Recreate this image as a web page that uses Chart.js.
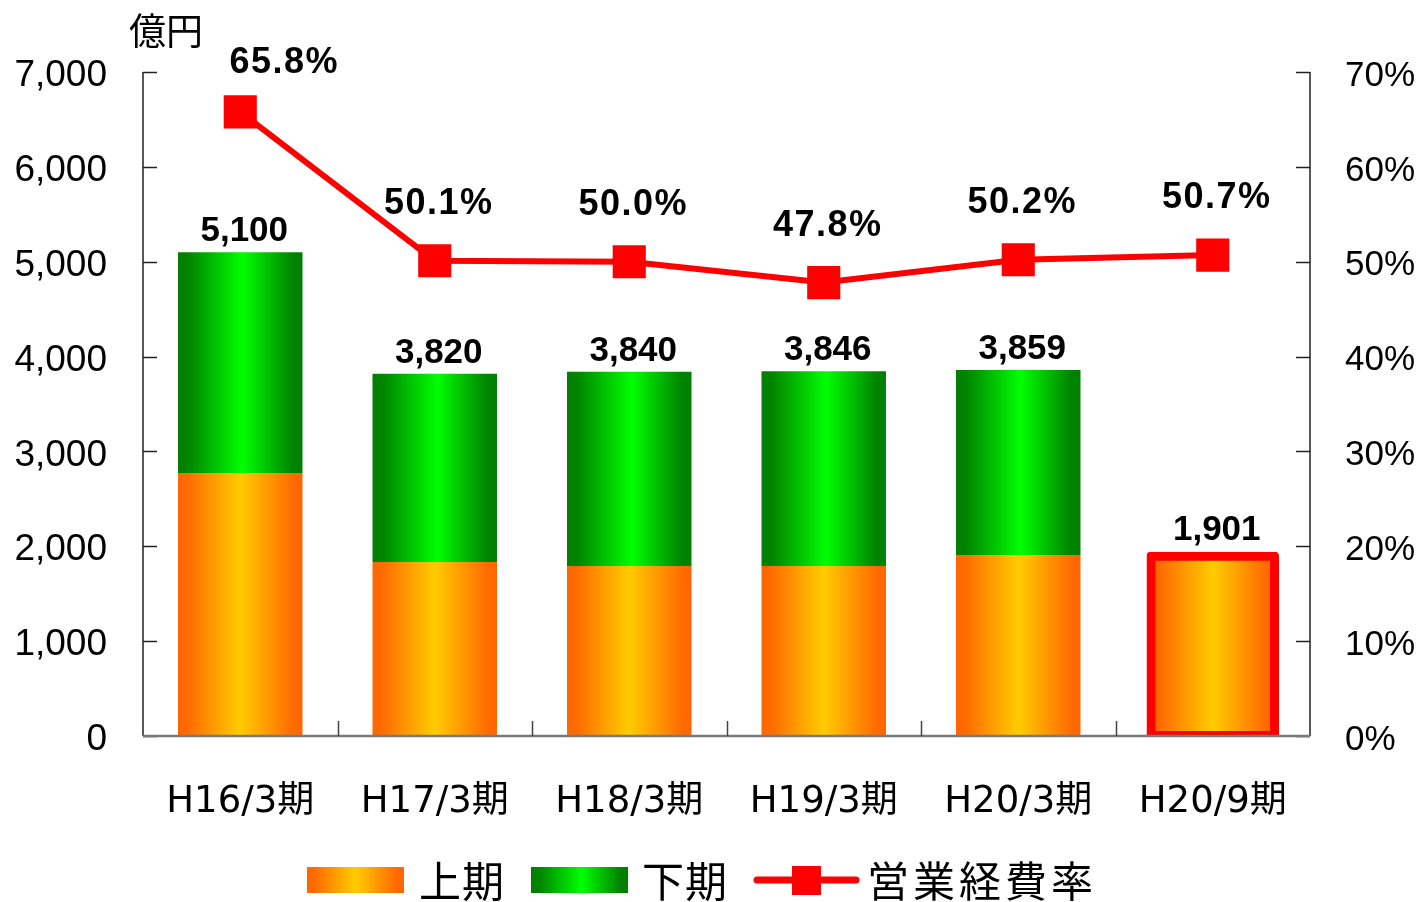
<!DOCTYPE html>
<html>
<head>
<meta charset="utf-8">
<title>営業経費率</title>
<script src="https://cdn.jsdelivr.net/npm/chart.js@4.4.0/dist/chart.umd.min.js"></script>
<style>
  html, body { margin: 0; padding: 0; background: #fff; }
  #chart { display: block; }
</style>
</head>
<body>
<canvas id="chart" width="1416" height="902"></canvas>
<script>
// data
const periods = ['H16/3期', 'H17/3期', 'H18/3期', 'H19/3期', 'H20/3期', 'H20/9期'];
const firstHalf = [2773, 1834, 1792, 1792, 1908, 1901];   // 上期
const secondHalf = [2327, 1986, 2048, 2054, 1951, null];  // 下期
const totals = [5100, 3820, 3840, 3846, 3859, 1901];
const expenseRate = [65.8, 50.1, 50.0, 47.8, 50.2, 50.7]; // 営業経費率 (%)

const NUM_FONT = "'Liberation Sans', Arial, sans-serif";
const JP_FONT = "'Noto Sans CJK JP', sans-serif";
const BAR_PCT = 0.64;

const orangeStops = [[0, '#ff6600'], [0.08, '#ff6c00'], [0.5, '#ffcc00'], [0.92, '#ff6c00'], [1, '#ff6600']];
const greenStops = [[0, '#007f00'], [0.08, '#008400'], [0.52, '#00ff00'], [0.92, '#008400'], [1, '#007f00']];

// horizontal gradient across one bar
function barGradient(context, stops) {
    const chart = context.chart;
    const { chartArea, scales } = chart;
    if (!chartArea || context.dataIndex === undefined || !scales.x) return stops[2][1];
    const x = scales.x.getPixelForValue(context.dataIndex);
    const half = (scales.x.width / periods.length) * BAR_PCT / 2;
    const g = chart.ctx.createLinearGradient(x - half, 0, x + half, 0);
    stops.forEach(s => g.addColorStop(s[0], s[1]));
    return g;
}

// axes, ticks, labels and legend drawn on top
const decorations = {
    id: 'decorations',
    afterDraw(chart) {
        const { ctx, chartArea: area, scales } = chart;
        const xs = scales.x, yl = scales.y, yr = scales.y2;
        ctx.save();

        // left and right axis lines with inside ticks
        ctx.strokeStyle = '#222';
        ctx.lineWidth = 1.5;
        ctx.beginPath();
        ctx.moveTo(area.left, area.top);
        ctx.lineTo(area.left, area.bottom);
        ctx.moveTo(area.right, area.top);
        ctx.lineTo(area.right, area.bottom);
        yl.ticks.forEach(t => {
            const y = Math.round(yl.getPixelForValue(t.value)) + 0.5;
            ctx.moveTo(area.left, y);
            ctx.lineTo(area.left + 14, y);
        });
        yr.ticks.forEach(t => {
            const y = Math.round(yr.getPixelForValue(t.value)) + 0.5;
            ctx.moveTo(area.right, y);
            ctx.lineTo(area.right - 14, y);
        });
        ctx.stroke();

        // bottom axis and category separators
        ctx.strokeStyle = '#7a7a7a';
        ctx.lineWidth = 2.5;
        ctx.beginPath();
        ctx.moveTo(area.left, area.bottom);
        ctx.lineTo(area.right, area.bottom);
        ctx.stroke();
        ctx.strokeStyle = '#444';
        ctx.lineWidth = 1.5;
        ctx.beginPath();
        for (let i = 0; i < periods.length - 1; i++) {
            const x = Math.round((xs.getPixelForValue(i) + xs.getPixelForValue(i + 1)) / 2) + 0.5;
            ctx.moveTo(x, area.bottom);
            ctx.lineTo(x, area.bottom - 15);
        }
        ctx.stroke();

        // unit
        ctx.fillStyle = '#000';
        ctx.font = '37px ' + JP_FONT;
        ctx.textAlign = 'left';
        ctx.textBaseline = 'middle';
        ctx.fillText('億円', 129, 31);

        // totals above bars
        ctx.font = 'bold 35px ' + NUM_FONT;
        ctx.textAlign = 'center';
        ctx.textBaseline = 'alphabetic';
        totals.forEach((v, i) => {
            const x = xs.getPixelForValue(i) + 4;
            const y = yl.getPixelForValue(v) - (i === totals.length - 1 ? 16 : 11);
            ctx.fillText(v.toLocaleString('en-US'), x, y);
        });

        // rates above markers
        ctx.font = 'bold 36px ' + NUM_FONT;
        ctx.letterSpacing = '1.5px';
        expenseRate.forEach((v, i) => {
            let x = xs.getPixelForValue(i) + 4;
            let y = yr.getPixelForValue(v) - 47;
            if (i === 0) { x += 40; y += 8; }
            ctx.fillText(v.toFixed(1) + '%', x, y);
        });
        ctx.letterSpacing = '0px';

        // legend
        const ly = 880;
        const swatch = (x, stops) => {
            const g = ctx.createLinearGradient(x, 0, x + 97, 0);
            stops.forEach(s => g.addColorStop(s[0], s[1]));
            ctx.fillStyle = g;
            ctx.fillRect(x, ly - 13, 97, 26);
        };
        swatch(307, orangeStops);
        swatch(531, greenStops);
        ctx.strokeStyle = '#ff0000';
        ctx.lineWidth = 7;
        ctx.lineCap = 'round';
        ctx.beginPath();
        ctx.moveTo(757, ly);
        ctx.lineTo(856, ly);
        ctx.stroke();
        ctx.fillStyle = '#ff0000';
        ctx.fillRect(792, ly - 14, 29, 29);

        ctx.fillStyle = '#000';
        ctx.font = '42px ' + JP_FONT;
        ctx.textAlign = 'left';
        ctx.textBaseline = 'middle';
        ctx.letterSpacing = '1px';
        ctx.fillText('上期', 419, ly + 1);
        ctx.fillText('下期', 642, ly + 1);
        ctx.letterSpacing = '4px';
        ctx.fillText('営業経費率', 867, ly + 1);
        ctx.restore();
    }
};

const ctx = document.getElementById('chart').getContext('2d');

new Chart(ctx, {
    data: {
        labels: periods,
        datasets: [
            {
                type: 'line',
                label: '営業経費率',
                data: expenseRate,
                yAxisID: 'y2',
                borderColor: '#ff0000',
                backgroundColor: '#ff0000',
                borderWidth: 6,
                pointStyle: 'rect',
                pointRadius: 22,
                pointBorderWidth: 2,
                pointBorderColor: '#ff0000',
                pointBackgroundColor: '#ff0000',
                tension: 0,
                order: 0
            },
            {
                type: 'bar',
                label: '上期',
                data: firstHalf,
                yAxisID: 'y',
                backgroundColor: c => barGradient(c, orangeStops),
                borderColor: '#ff0000',
                borderWidth: [0, 0, 0, 0, 0, 9],
                borderRadius: [0, 0, 0, 0, 0, 4],
                inflateAmount: [0, 0, 0, 0, 0, 4],
                borderSkipped: false,
                barPercentage: BAR_PCT,
                categoryPercentage: 1,
                order: 1
            },
            {
                type: 'bar',
                label: '下期',
                data: secondHalf,
                yAxisID: 'y',
                backgroundColor: c => barGradient(c, greenStops),
                borderWidth: 0,
                barPercentage: BAR_PCT,
                categoryPercentage: 1,
                order: 1
            }
        ]
    },
    options: {
        responsive: false,
        animation: false,
        layout: { padding: { top: 72, left: 0, right: 0, bottom: 0 } },
        plugins: {
            legend: { display: false },
            tooltip: { enabled: false }
        },
        scales: {
            x: {
                stacked: true,
                grid: { display: false, drawTicks: false },
                border: { display: false },
                ticks: {
                    color: '#000',
                    padding: 44,
                    font: { family: "'DejaVu Sans', 'Noto Sans CJK JP', sans-serif", size: 37 }
                },
                afterFit: s => { s.height = 166; }
            },
            y: {
                stacked: true,
                position: 'left',
                min: 0,
                max: 7000,
                grid: { display: false, drawTicks: false },
                border: { display: false },
                ticks: {
                    stepSize: 1000,
                    color: '#000',
                    padding: 36,
                    labelOffset: 4,
                    font: { family: NUM_FONT, size: 37 },
                    callback: v => v.toLocaleString('en-US')
                },
                afterFit: s => { s.width = 143; }
            },
            y2: {
                position: 'right',
                min: 0,
                max: 70,
                grid: { display: false, drawTicks: false },
                border: { display: false },
                ticks: {
                    stepSize: 10,
                    color: '#000',
                    padding: 35,
                    labelOffset: 4,
                    font: { family: NUM_FONT, size: 35 },
                    callback: v => v + '%'
                },
                afterFit: s => { s.width = 106; }
            }
        }
    },
    plugins: [decorations]
});
</script>
</body>
</html>
